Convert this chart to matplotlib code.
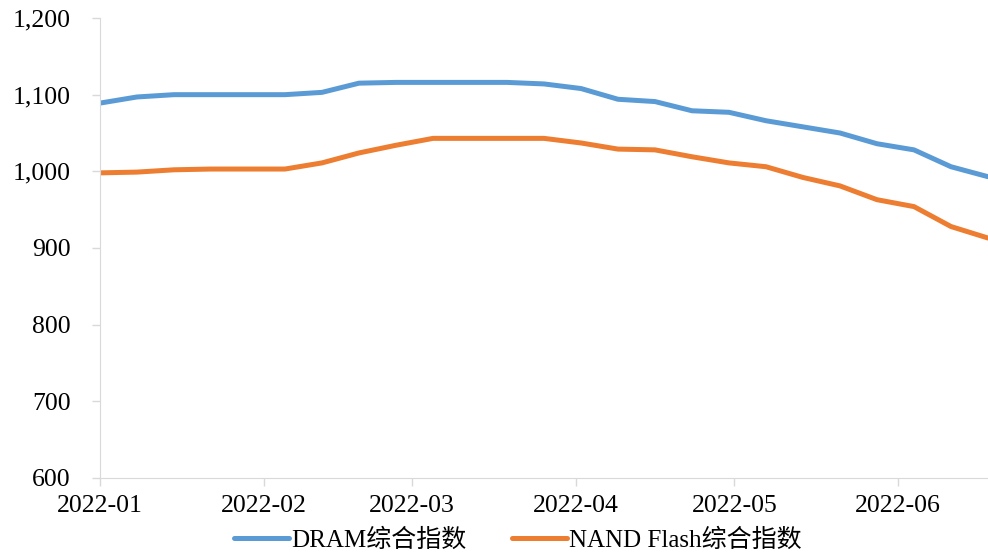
import pandas as pd
import matplotlib
matplotlib.use('Agg')
import matplotlib.pyplot as plt
import matplotlib.dates as mdates

# weekly index values
dates = pd.date_range('2022-01-01', periods=25, freq='7D')
dram = [1089, 1097, 1100, 1100, 1100, 1100, 1103, 1115, 1116, 1116, 1116, 1116,
        1114, 1108, 1094, 1091, 1079, 1077, 1066, 1058, 1050, 1036, 1028, 1006, 993]
nand = [998, 999, 1002, 1003, 1003, 1003, 1011, 1024, 1034, 1043, 1043, 1043,
        1043, 1037, 1029, 1028, 1019, 1011, 1006, 992, 981, 963, 954, 928, 913]
month_ticks = pd.to_datetime(['2022-01-01', '2022-02-01', '2022-03-01',
                              '2022-04-01', '2022-05-01', '2022-06-01'])

plt.rcParams['font.family'] = ['Liberation Serif', 'Noto Sans CJK SC']

fig = plt.figure(figsize=(9.88, 5.56), dpi=100)
ax = fig.add_axes([100/988, 78/556, 888/988, 460/556])

ax.plot(dates, dram, color='#5B9BD5', lw=3.6, label='DRAM综合指数', solid_capstyle='round')
ax.plot(dates, nand, color='#ED7D31', lw=3.6, label='NAND Flash综合指数', solid_capstyle='round')

ax.set_ylim(600, 1200)
ax.set_yticks(range(600, 1201, 100))
ax.set_yticklabels([f'{v:,}' for v in range(600, 1201, 100)])
ax.set_xlim(dates[0], dates[-1])
ax.set_xticks(month_ticks)
ax.xaxis.set_major_formatter(mdates.DateFormatter('%Y-%m'))

for s in ['top', 'right']:
    ax.spines[s].set_visible(False)
ax.spines['left'].set_color('#d9d9d9')
ax.spines['bottom'].set_color('#d9d9d9')
ax.tick_params(axis='both', colors='#d9d9d9', labelcolor='black', labelsize=18.5,
               length=6, width=1, direction='out')
ax.tick_params(axis='y', pad=15)
ax.tick_params(axis='x', pad=6)

fig.legend(loc='center', bbox_to_anchor=(518/988, 16/556), ncol=2, frameon=False,
           fontsize=18, handlelength=2.2, handletextpad=0.1, columnspacing=1.8)

fig.savefig('out.png', dpi=100)
